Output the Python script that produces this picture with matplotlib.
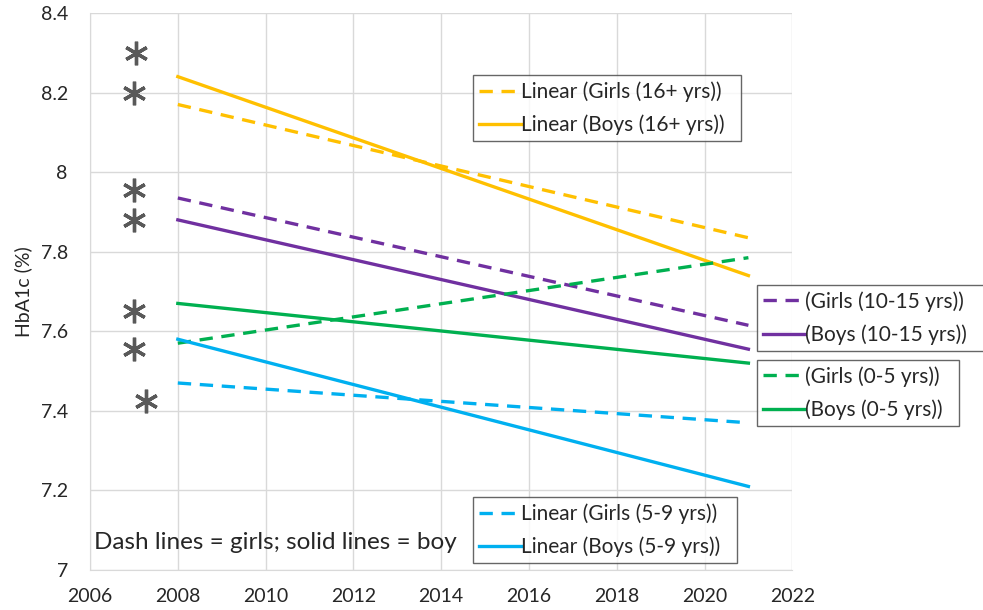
import matplotlib
matplotlib.use('Agg')
import matplotlib.pyplot as plt

# trend line end points (2008 -> 2021)
years = [2008, 2021]
girls_16 = [8.17, 7.835]
boys_16 = [8.24, 7.74]
girls_10_15 = [7.935, 7.615]
boys_10_15 = [7.88, 7.555]
girls_0_5 = [7.57, 7.785]
boys_0_5 = [7.67, 7.52]
girls_5_9 = [7.47, 7.37]
boys_5_9 = [7.58, 7.21]

# significance asterisks
star_x = [2007.05, 2007.0, 2007.0, 2007.0, 2007.0, 2007.0, 2007.28]
star_y = [8.30, 8.20, 7.955, 7.88, 7.65, 7.555, 7.425]

x_ticks = [2006, 2008, 2010, 2012, 2014, 2016, 2018, 2020, 2022]
y_ticks = [7, 7.2, 7.4, 7.6, 7.8, 8, 8.2, 8.4]
y_labels = ['7', '7.2', '7.4', '7.6', '7.8', '8', '8.2', '8.4']

ORANGE = '#FFC000'
PURPLE = '#7030A0'
GREEN = '#00B050'
BLUE = '#00B0F0'

plt.rcParams['font.family'] = ['Lato', 'DejaVu Sans']

fig = plt.figure(figsize=(9.83, 6.1), dpi=100)
ax = fig.add_axes([0.0916, 0.0656, 0.7144, 0.9131])

lw = 2.4
dash = (0, (4, 2.6))

series = [
    (girls_16, ORANGE, dash, 'Linear (Girls (16+ yrs))'),
    (boys_16, ORANGE, '-', 'Linear (Boys (16+ yrs))'),
    (girls_10_15, PURPLE, dash, '(Girls (10-15 yrs))'),
    (boys_10_15, PURPLE, '-', '(Boys (10-15 yrs))'),
    (girls_0_5, GREEN, dash, '(Girls (0-5 yrs))'),
    (boys_0_5, GREEN, '-', '(Boys (0-5 yrs))'),
    (girls_5_9, BLUE, dash, 'Linear (Girls (5-9 yrs))'),
    (boys_5_9, BLUE, '-', 'Linear (Boys (5-9 yrs))'),
]
handles = []
for vals, col, ls, lab in series:
    ln, = ax.plot(years, vals, color=col, linestyle=ls, linewidth=lw, label=lab + '  ')
    handles.append(ln)

ax.plot(star_x, star_y, linestyle='none', marker=(6, 2, 0), markersize=17,
        markeredgewidth=2.4, color='#595959')

ax.set_xlim(2006, 2022)
ax.set_ylim(7, 8.4)
ax.set_xticks(x_ticks)
ax.set_yticks(y_ticks)
ax.set_yticklabels(y_labels)
ax.tick_params(axis='both', length=0, labelsize=14, colors='#262626')
ax.tick_params(axis='y', pad=16)
ax.tick_params(axis='x', pad=13)
ax.grid(True, color='#D9D9D9', linewidth=1)
ax.set_axisbelow(True)
for s in ['top', 'right']:
    ax.spines[s].set_visible(False)
for s in ['left', 'bottom']:
    ax.spines[s].set_color('#D9D9D9')
ax.set_ylabel('HbA1c (%)', fontsize=14, color='#262626', labelpad=6)

ax.text(2006.1, 7.068, 'Dash lines = girls; solid lines = boy', fontsize=17.5,
        color='#262626', va='center', ha='left')

# four separate legend boxes
leg_spots = [((0.481, 0.877), handles[0:2]),
             ((0.770, 0.533), handles[2:4]),
             ((0.770, 0.410), handles[4:6]),
             ((0.481, 0.185), handles[6:8])]
for anchor, hs in leg_spots:
    leg = fig.legend(handles=hs, loc='upper left', bbox_to_anchor=anchor,
                     fontsize=15, frameon=True, fancybox=False, handlelength=2.0,
                     handletextpad=0.0, borderpad=0.3, labelspacing=0.6,
                     borderaxespad=0)
    leg.get_frame().set_edgecolor('#404040')
    leg.get_frame().set_linewidth(1.0)
    for t in leg.get_texts():
        t.set_color('#262626')

fig.savefig('out.png', dpi=100)
